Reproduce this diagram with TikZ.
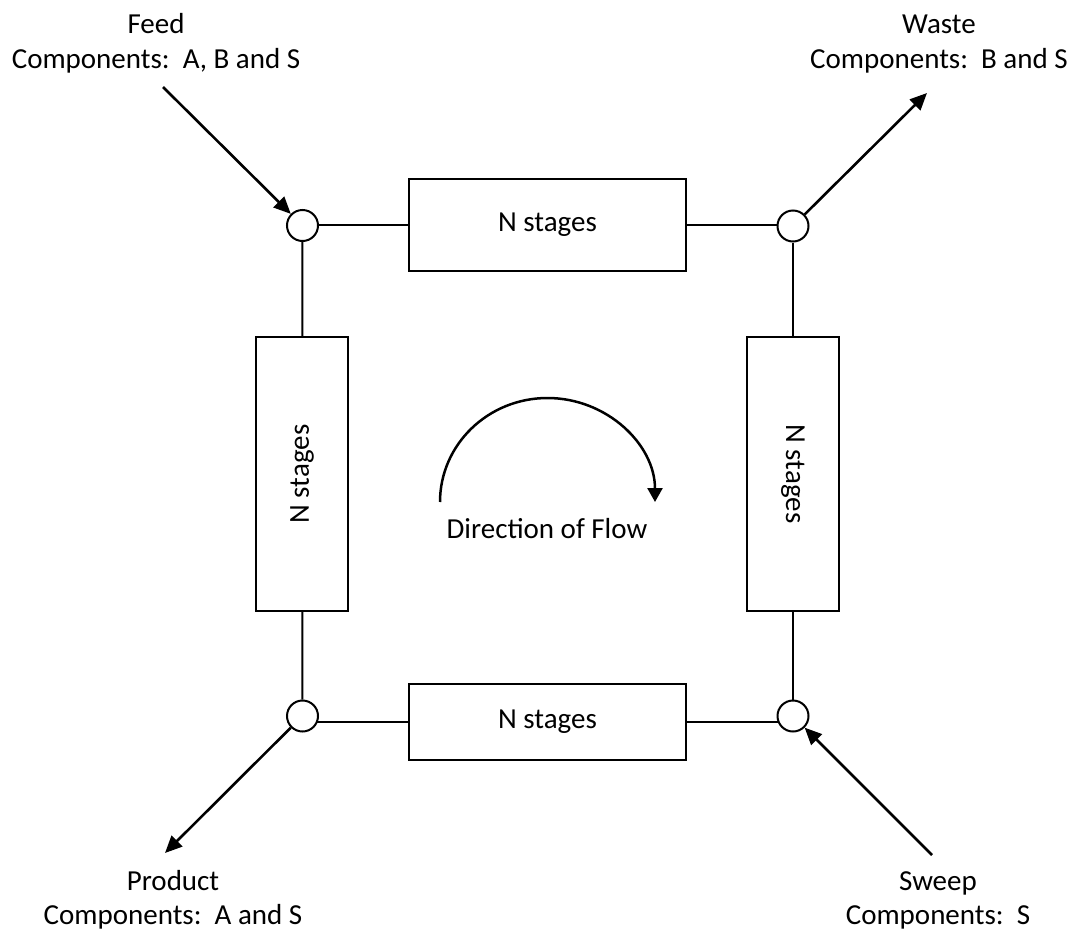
\documentclass[tikz,border=0pt]{standalone}
\usepackage{fontspec}
\setmainfont{Carlito}
\usetikzlibrary{arrows.meta,backgrounds}
\begin{document}
\begin{tikzpicture}[x=1pt,y=-1pt,
  every node/.style={font=\fontsize{29}{35}\selectfont},
  stagebox/.style={draw, line width=2pt, inner sep=0pt,
    minimum width=277pt, minimum height=92pt},
  junction/.style={draw, circle, fill=white, line width=2pt,
    inner sep=0pt, minimum size=31pt},
  pipe/.style={line width=2pt},
  stream/.style={line width=2.6pt,
    -{Triangle[length=17pt,width=15pt]}},
  turn/.style={line width=2.5pt,
    -{Triangle[length=14pt,width=15pt]}},
  lbl/.style={anchor=base, inner sep=0pt}
]
\useasboundingbox (0,0) rectangle (1072,932);

% mixing points at the four corners of the loop
\node[junction] (c1) at (302.5,225.5) {};
\node[junction] (c2) at (793,226) {};
\node[junction] (c3) at (302.5,716) {};
\node[junction] (c4) at (793,716) {};

% stage sections
\node[stagebox] (bT) at (547.5,225) {N stages};
\node[stagebox, minimum height=76pt] (bB) at (547.5,722) {N stages};
\node[stagebox, rotate=90, minimum width=274pt] (bL) at (302,474) {N stages};
\node[stagebox, rotate=-90, minimum width=274pt] (bR) at (793,474) {N stages};

% piping between sections
\begin{scope}[on background layer]
  \draw[pipe] (bT.west) -- (bT.west -| c1);
  \draw[pipe] (bT.east) -- (bT.east -| c2);
  \draw[pipe] (bB.west) -- (bB.west -| c3);
  \draw[pipe] (bB.east) -- (bB.east -| c4);
\end{scope}
\draw[pipe] (c1) -- (bL);
\draw[pipe] (c3) -- (bL);
\draw[pipe] (c2) -- (bR);
\draw[pipe] (c4) -- (bR);

% external streams
\coordinate (feedtail) at (163,87);
\coordinate (wastehead) at (927,93);
\coordinate (producthead) at (165,853);
\coordinate (sweeptail) at (932,855);
\draw[stream] (feedtail) -- (c1);
\draw[stream] (c2) -- (wastehead);
\draw[stream] (c3) -- (producthead);
\draw[stream] (sweeptail) -- (c4);

% stream labels
\node[lbl] (feedname) at (156,33) {Feed};
\node[lbl] (feedcomp) at (156,68) {Components:\ \ A, B and S};
\node[lbl] (wastename) at (939,33) {Waste};
\node[lbl] (wastecomp) at (939,68) {Components:\ \ B and S};
\node[lbl] (prodname) at (173,890) {Product};
\node[lbl] (prodcomp) at (173,924) {Components:\ \ A and S};
\node[lbl] (sweepname) at (938,890) {Sweep};
\node[lbl] (sweepcomp) at (938,924) {Components:\ \ S};

% direction of circulation
\coordinate (arcstart) at (440,502);
\draw[turn] (arcstart) arc[start angle=180, end angle=360, x radius=107.5, y radius=104];
\node[lbl] (dirlabel) at (547,538) {Direction of Flow};
\end{tikzpicture}
\end{document}
